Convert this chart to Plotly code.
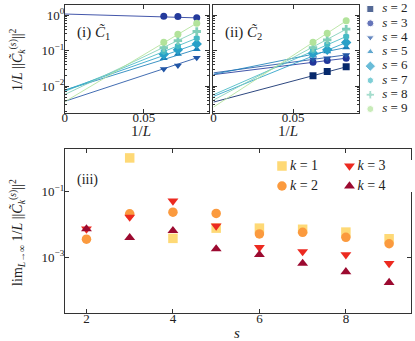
import plotly.graph_objects as go

W, H = 415, 341
FONT = "Liberation Serif, Times New Roman, DejaVu Serif, serif"

# ---------------- data ----------------
L_sizes = [16, 14, 12]
s_values = [2, 3, 4, 5, 6, 7, 8, 9]
s_colors = ["#0c2a6b", "#243a9c", "#2556a6", "#1e82ba", "#2aa0c8", "#48bac5", "#80cfb9", "#b2e39b"]
s_symbols = ["square", "circle", "triangle-down", "triangle-up", "diamond", "hexagon", "cross", "circle"]

# panel (i): (1/L)||C1^(s)||^2 for L = 16, 14, 12  (s = 2 absent)
c1_values = [
    None,
    [0.95, 0.93, 0.85],
    [0.031, 0.0386, 0.0635],
    [0.062, 0.082, 0.111],
    [0.0805, 0.1067, 0.157],
    [0.0957, 0.138, 0.227],
    [0.124, 0.195, 0.351],
    [0.176, 0.294, 0.601],
]
# panel (ii): (1/L)||C2^(s)||^2 for L = 16, 14, 12
c2_values = [
    [0.0198, 0.0262, 0.0354],
    [0.048, 0.0535, 0.062],
    [0.0582, 0.062, 0.077],
    [0.077, 0.0957, 0.124],
    [0.0859, 0.1067, 0.172],
    [0.102, 0.154, 0.2535],
    [0.124, 0.204, 0.407],
    [0.176, 0.315, 0.70],
]
# panel (iii): L -> infinity limits, s = 2..9
lim_k1 = [None, 1.09, 0.0038, 0.0078, 0.0078, 0.0072, 0.0059, 0.0037]
lim_k2 = [0.0036, 0.0214, 0.024, 0.0219, 0.0052, 0.0058, 0.0041, 0.0026]
lim_k3 = [0.0074, 0.017, 0.053, 0.0091, 0.0020, 0.0015, 0.0012, 0.00065]
lim_k4 = [0.0074, 0.0040, 0.0065, 0.0018, 0.0012, 0.00065, 0.00036, 0.00017]
k_labels = [1, 2, 3, 4]
k_colors = ["#fed976", "#fb9a3e", "#ec2a20", "#9c0a30"]
k_symbols = ["square", "circle", "triangle-down", "triangle-up"]

# ---------------- helpers ----------------
def px_x(x):
    return x / W

def px_y(y):
    return (H - y) / H

inv_L = [1.0 / L for L in L_sizes]
x_end = max(inv_L)

fig = go.Figure()

def add_panel(values, lims, xa, ya):
    for i, s in enumerate(s_values):
        vals = values[i]
        if vals is None:
            continue
        col = s_colors[i]
        fig.add_trace(go.Scatter(
            x=[0, x_end], y=[lims[i], vals[-1]], mode="lines",
            line=dict(color=col, width=1), opacity=0.85,
            xaxis=xa, yaxis=ya, showlegend=False, hoverinfo="skip"))
        fig.add_trace(go.Scatter(
            x=inv_L, y=vals, mode="markers",
            marker=dict(symbol=s_symbols[i], color=col, size=7 if s_symbols[i] != "diamond" else 8,
                        line=dict(width=0)),
            xaxis=xa, yaxis=ya, showlegend=False))

add_panel(c1_values, lim_k1, "x", "y")
add_panel(c2_values, lim_k2, "x2", "y2")

# panel (iii)
for lims, k, col, sym in zip([lim_k1, lim_k2, lim_k3, lim_k4], k_labels, k_colors, k_symbols):
    fig.add_trace(go.Scatter(
        x=s_values, y=lims, mode="markers",
        marker=dict(symbol=sym, color=col, size=9.5, line=dict(width=0)),
        xaxis="x3", yaxis="y3", showlegend=False, cliponaxis=False))

# legend for s (custom, on a hidden helper axis)
fig.add_trace(go.Scatter(
    x=[10] * len(s_values), y=s_values, mode="markers",
    marker=dict(symbol=s_symbols, color=s_colors, size=[7, 7, 7, 7, 8, 7, 7, 7]),
    xaxis="x4", yaxis="y4", showlegend=False, hoverinfo="skip", cliponaxis=False))
fig.add_trace(go.Scatter(
    x=[22] * len(s_values), y=s_values, mode="text",
    text=[f"<i>s</i> = {s}" for s in s_values], textposition="middle right",
    textfont=dict(family=FONT, size=13, color="#222"),
    xaxis="x4", yaxis="y4", showlegend=False, hoverinfo="skip", cliponaxis=False))

# legend for k (custom 2x2, helper axis in pixel units)
leg_col_x = [281, 281, 349, 349]
leg_row_y = [166, 186, 166, 186]
fig.add_trace(go.Scatter(
    x=leg_col_x, y=leg_row_y, mode="markers",
    marker=dict(symbol=k_symbols, color=k_colors, size=9.5),
    xaxis="x5", yaxis="y5", showlegend=False, hoverinfo="skip", cliponaxis=False))
fig.add_trace(go.Scatter(
    x=[c + 8 for c in leg_col_x], y=leg_row_y, mode="text",
    text=[f"<i>k</i> = {k}" for k in k_labels], textposition="middle right",
    textfont=dict(family=FONT, size=14, color="#222"),
    xaxis="x5", yaxis="y5", showlegend=False, hoverinfo="skip", cliponaxis=False))

# ---------------- axes ----------------
tickfont = dict(family=FONT, size=13, color="#222")
common = dict(showline=True, linecolor="#333", linewidth=1, mirror="ticks",
              ticks="inside", ticklen=4, tickcolor="#333", showgrid=False,
              zeroline=False, tickfont=tickfont)

minor_vals = [m * 10.0 ** e for e in range(-4, 1) for m in range(2, 10)]
top_y_range = [-2.75, 0.30]
top_ydom = [px_y(113), px_y(4.7)]

fig.update_layout(
    width=W, height=H, margin=dict(l=0, r=0, t=0, b=0),
    paper_bgcolor="white", plot_bgcolor="white",
    font=dict(family=FONT, color="#222"),
    xaxis=dict(domain=[px_x(62.3), px_x(207.7)], range=[0, 0.0912],
               tickvals=[0, 0.05], ticktext=["0", "0.05"], anchor="y",
               ticklabelstandoff=-8, **common),
    yaxis=dict(domain=top_ydom, type="log", range=top_y_range,
               tickvals=[1, 0.1, 0.01], ticktext=["10<sup>0</sup>", "10<sup>−1</sup>", "10<sup>−2</sup>"],
               minor=dict(tickvals=minor_vals, ticks="inside", ticklen=2, tickcolor="#333"),
               ticklabelstandoff=-3, anchor="x", **common),
    xaxis2=dict(domain=[px_x(212), px_x(358.3)], range=[0, 0.0912],
                tickvals=[0, 0.05], ticktext=["0", "0.05"], anchor="y2",
                ticklabelstandoff=-8, **common),
    yaxis2=dict(domain=top_ydom, type="log", range=top_y_range,
                tickvals=[1, 0.1, 0.01], showticklabels=False,
                minor=dict(tickvals=minor_vals, ticks="inside", ticklen=2, tickcolor="#333"),
                anchor="x2", **common),
    xaxis3=dict(domain=[px_x(62.3), px_x(410.7)], range=[1.5, 9.5],
                tickvals=[2, 4, 6, 8], anchor="y3", ticklabelstandoff=-7, **common),
    yaxis3=dict(domain=[px_y(313.3), px_y(149)], type="log", range=[-4.71, 0.31],
                tickvals=[0.1, 0.001], ticktext=["10<sup>−1</sup>", "10<sup>−3</sup>"],
                ticklabelstandoff=-3, anchor="x3", **common),
    xaxis4=dict(domain=[px_x(360), 1.0], range=[0, 55], visible=False, anchor="y4", fixedrange=True),
    yaxis4=dict(domain=[px_y(109), px_y(9)], range=[9, 2], visible=False, anchor="x4", fixedrange=True),
    xaxis5=dict(domain=[px_x(270), 1.0], range=[270, 415], visible=False, anchor="y5", fixedrange=True),
    yaxis5=dict(domain=[px_y(192), px_y(160)], range=[192, 160], visible=False, anchor="x5", fixedrange=True),
)

ctilde = "<i>C\u0303</i>"
ann = [
    dict(x=px_x(73), y=px_y(33), text=f"(i) {ctilde}<sub>1</sub>", xanchor="left", size=15),
    dict(x=px_x(222), y=px_y(33), text=f"(ii) {ctilde}<sub>2</sub>", xanchor="left", size=15),
    dict(x=px_x(73), y=px_y(180), text="(iii)", xanchor="left", size=14),
    dict(x=px_x(139), y=px_y(131), text="1/<i>L</i>", xanchor="center", size=15),
    dict(x=px_x(287), y=px_y(131), text="1/<i>L</i>", xanchor="center", size=15),
    dict(x=px_x(236), y=px_y(333), text="<i>s</i>", xanchor="center", size=15),
]
annotations = []
for a in ann:
    annotations.append(dict(xref="paper", yref="paper", x=a["x"], y=a["y"], text=a["text"],
                            xanchor=a["xanchor"], yanchor="middle", showarrow=False,
                            font=dict(family=FONT, size=a["size"], color="#222")))
annotations.append(dict(xref="paper", yref="paper", x=px_x(14), y=px_y(60),
                        text=f"1/<i>L</i> ||{ctilde}<sub><i>k</i></sub><sup>(<i>s</i>)</sup>||<sup>2</sup>",
                        textangle=-90, showarrow=False, xanchor="center", yanchor="middle",
                        font=dict(family=FONT, size=14, color="#222")))
annotations.append(dict(xref="paper", yref="paper", x=px_x(14), y=px_y(232),
                        text=f"lim<sub><i>L</i>→∞</sub> 1/<i>L</i> ||{ctilde}<sub><i>k</i></sub><sup>(<i>s</i>)</sup>||<sup>2</sup>",
                        textangle=-90, showarrow=False, xanchor="center", yanchor="middle",
                        font=dict(family=FONT, size=14, color="#222")))
fig.update_layout(annotations=annotations)

fig.write_html("out.html", config={"displayModeBar": False},
               post_script="document.body.style.margin='0';document.body.style.padding='0';"
                           "document.documentElement.style.overflow='hidden';")
